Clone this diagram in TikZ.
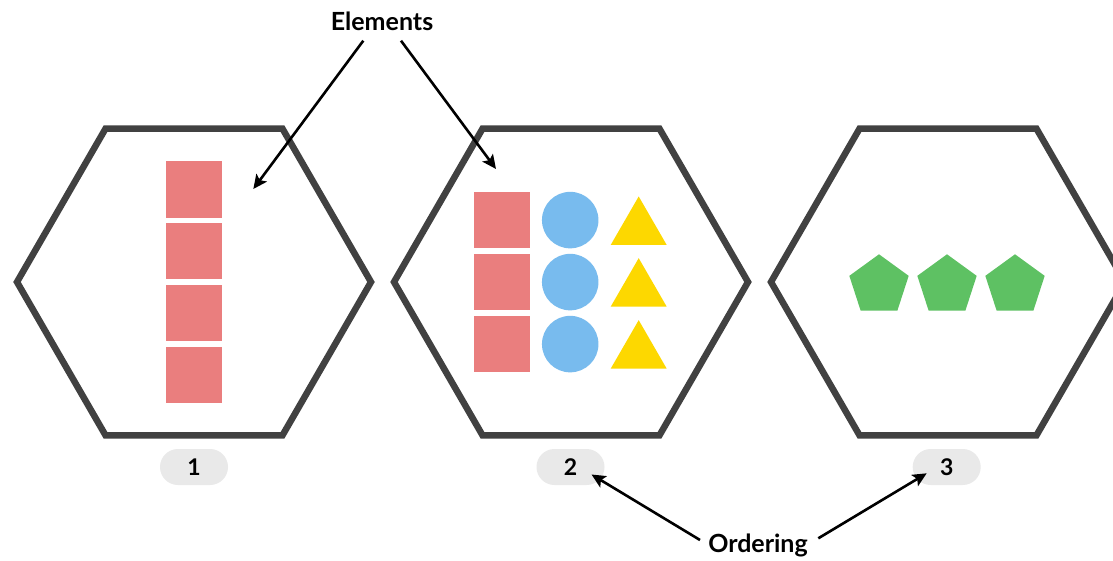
\documentclass[tikz,border=0pt]{standalone}
\usepackage{fontspec}
\setmainfont{Lato}
\usetikzlibrary{shapes.geometric,arrows.meta,calc}
\definecolor{hexgray}{HTML}{414141}
\definecolor{sqred}{HTML}{EA7E7E}
\definecolor{cblue}{HTML}{78BBEE}
\definecolor{tyellow}{HTML}{FDD800}
\definecolor{pgreen}{HTML}{5EC163}
\definecolor{pillgray}{HTML}{E9E9E9}
\tikzset{
  hexline/.style={draw=hexgray,line width=6.5pt,line join=miter},
  sqbox/.style={rectangle,fill=sqred,minimum size=56.5pt,inner sep=0pt},
  circ/.style={circle,fill=cblue,minimum size=56.5pt,inner sep=0pt},
  tri/.style={regular polygon,regular polygon sides=3,fill=tyellow,minimum size=64.7pt,inner sep=0pt},
  penta/.style={regular polygon,regular polygon sides=5,fill=pgreen,minimum size=62.4pt,inner sep=0pt},
  pill/.style={rectangle,rounded corners=18pt,fill=pillgray,minimum width=68pt,minimum height=36pt,inner sep=0pt,font=\fontsize{23}{26}\selectfont\bfseries},
  lbl/.style={font=\fontsize{25}{28}\selectfont\bfseries,inner sep=0pt},
  arr/.style={line width=2.6pt,-{Stealth[length=14pt,width=13pt,inset=3pt]}}
}
\begin{document}
\begin{tikzpicture}[x=1pt,y=-1pt]
\useasboundingbox (0,0) rectangle (1113,561);
\clip (0,0) rectangle (1113,561);
\fill[white] (0,0) rectangle (1113,561);
% hexagon centres
\coordinate (h1) at (194,282);
\coordinate (h2) at (571,282);
\coordinate (h3) at (948,282);
\foreach \c in {h1,h2,h3}{
  \draw[hexline] (\c) +(0:177) -- +(60:177) -- +(120:177) -- +(180:177) -- +(240:177) -- +(300:177) -- cycle;
}
% hexagon 1 squares
\node[sqbox] (s11) at (194,189.3) {};
\node[sqbox] (s12) at (194,251.2) {};
\node[sqbox] (s13) at (194,313.1) {};
\node[sqbox] (s14) at (194,375.1) {};
% hexagon 2
\node[sqbox] (s21) at (502.2,220.2) {};
\node[sqbox] (s22) at (502.2,282.2) {};
\node[sqbox] (s23) at (502.2,344.2) {};
\node[circ] (c21) at (570.2,220.1) {};
\node[circ] (c22) at (570.2,282.1) {};
\node[circ] (c23) at (570.2,344.1) {};
\node[tri] (t21) at (638.7,228.8) {};
\node[tri] (t22) at (638.7,290.5) {};
\node[tri] (t23) at (638.7,352.5) {};
% hexagon 3
\node[penta] (p31) at (879,285.5) {};
\node[penta] (p32) at (947,285.5) {};
\node[penta] (p33) at (1015,285.5) {};
% pills
\node[pill] (n1) at (194,467) {1};
\node[pill] (n2) at (570.5,467) {2};
\node[pill] (n3) at (946.7,467) {3};
% labels
\node[lbl] (elements) at (382,21) {Elements};
\node[lbl] (ordering) at (758,545) {Ordering};
% arrows
\coordinate (e1) at (253.3,189);
\coordinate (e2) at (496,169);
\coordinate (o2) at ($(n2)+(21,7.5)$);
\coordinate (o3) at ($(n3)+(-20,6.3)$);
\draw[arr] ($(elements)+(-18.7,19.7)$) -- (e1);
\draw[arr] ($(elements)+(19,19.7)$) -- (e2);
\draw[arr] ($(ordering)+(-58,-5)$) -- (o2);
\draw[arr] ($(ordering)+(60.3,-6.7)$) -- (o3);
\end{tikzpicture}
\end{document}
